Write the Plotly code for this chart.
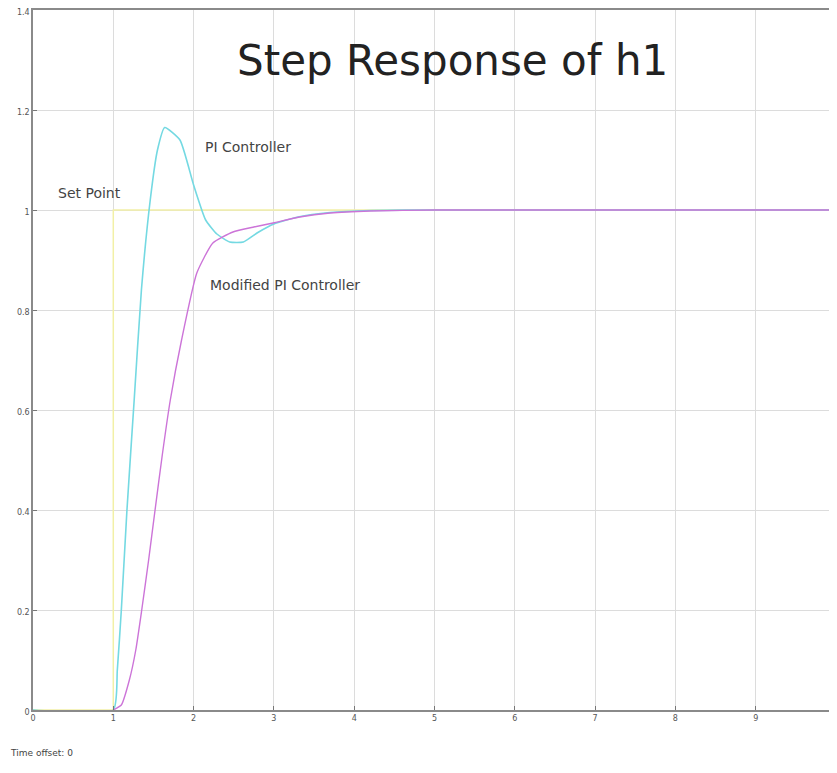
import plotly.graph_objects as go

# Set point (step at t=1)
sp_t = [0, 1, 1, 10]
sp_y = [0, 0, 1, 1]

# PI controller response
pi_t = [0, 1.0, 1.05, 1.10, 1.17, 1.26, 1.35, 1.46, 1.55, 1.64, 1.83, 2.0, 2.15, 2.29, 2.45, 2.62, 2.8, 3.0, 3.3, 3.7, 4.2, 5.0, 6.0, 8.0, 10.0]
pi_y = [0, 0.0, 0.08, 0.2, 0.4, 0.62, 0.84, 1.02, 1.12, 1.165, 1.14, 1.05, 0.98, 0.952, 0.936, 0.936, 0.955, 0.972, 0.986, 0.995, 0.999, 1.0, 1.0, 1.0, 1.0]

# Modified PI controller response
mpi_t = [1.0, 1.1, 1.2, 1.28, 1.354, 1.44, 1.52, 1.61, 1.71, 1.85, 2.04, 2.24, 2.49, 2.75, 2.99, 3.32, 3.7, 4.2, 5.0, 6.0, 8.0, 10.0]
mpi_y = [0.0, 0.01, 0.06, 0.12, 0.2, 0.3, 0.4, 0.51, 0.62, 0.74, 0.874, 0.934, 0.956, 0.966, 0.974, 0.986, 0.994, 0.998, 1.0, 1.0, 1.0, 1.0]

x_ticks = [0, 1, 2, 3, 4, 5, 6, 7, 8, 9, 10]
y_ticks = [0, 0.2, 0.4, 0.6, 0.8, 1.0, 1.2, 1.4]
y_tick_labels = ["0", "0.2", "0.4", "0.6", "0.8", "1", "1.2", "1.4"]

fig = go.Figure()
fig.add_trace(go.Scatter(x=sp_t, y=sp_y, mode="lines",
                         line=dict(color="#f2f0a6", width=1.5), name="Set Point"))
fig.add_trace(go.Scatter(x=pi_t, y=pi_y, mode="lines",
                         line=dict(color="#74d9e2", width=1.6, shape="spline", smoothing=0.5),
                         name="PI Controller"))
fig.add_trace(go.Scatter(x=mpi_t, y=mpi_y, mode="lines",
                         line=dict(color="#cc74d8", width=1.4, shape="spline", smoothing=0.5),
                         name="Modified PI Controller"))

axis_common = dict(showgrid=True, gridcolor="#dcdcdc", gridwidth=1, automargin=False,
                   showline=True, linecolor="#8a8a8a", linewidth=1.5, mirror=True,
                   ticks="inside", ticklen=4, tickcolor="#777", zeroline=False,
                   ticklabeloverflow="allow",
                   tickfont=dict(family="DejaVu Sans", size=8, color="#555"))

fig.update_xaxes(range=[0, 10], tickvals=x_ticks, **axis_common)
fig.update_yaxes(range=[0, 1.4], tickvals=y_ticks, ticktext=y_tick_labels,
                 ticklabelshift=2, **axis_common)

ann_font = dict(family="DejaVu Sans", size=14, color="#444")
fig.add_annotation(x=0.70, y=1.034, text="Set Point", showarrow=False, font=ann_font)
fig.add_annotation(x=2.68, y=1.126, text="PI Controller", showarrow=False, font=ann_font)
fig.add_annotation(x=3.14, y=0.85, text="Modified PI Controller", showarrow=False, font=ann_font)
fig.add_annotation(x=5.22, y=1.30, text="Step Response of h1", showarrow=False,
                   font=dict(family="DejaVu Sans", size=42, color="#222"))
fig.add_annotation(xref="paper", yref="paper", x=-0.031, y=-0.071, xanchor="left",
                   text="Time offset: 0", showarrow=False,
                   font=dict(family="DejaVu Sans", size=9, color="#444"))

fig.update_layout(width=829, height=757, margin=dict(l=25, r=1, t=2, b=55),
                  paper_bgcolor="white", plot_bgcolor="white", showlegend=False)

fig.write_html("out.html")
